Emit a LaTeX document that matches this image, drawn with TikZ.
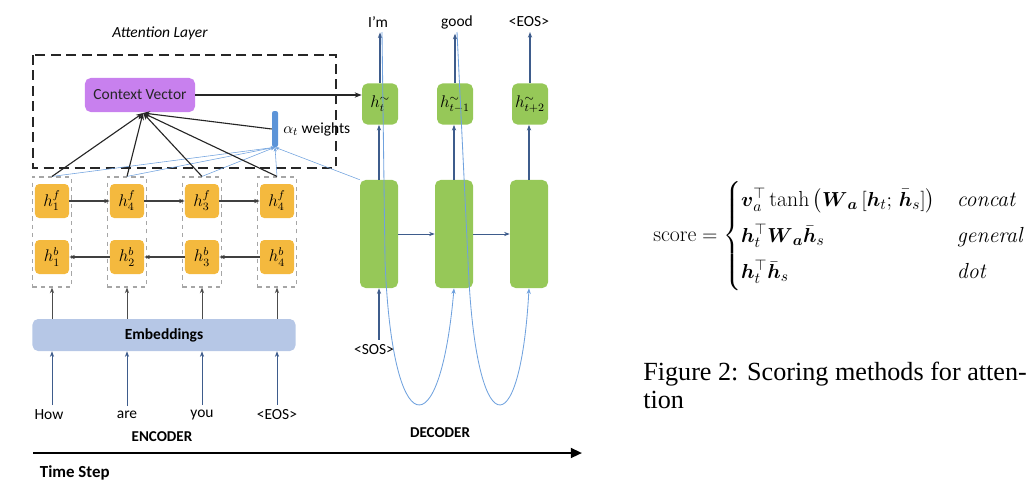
\documentclass[tikz,border=0pt]{standalone}
\usepackage{amsmath}
\usepackage{fontspec}
\setsansfont{Carlito}
\newfontfamily\capfont{Liberation Serif}
\usetikzlibrary{arrows.meta,positioning}

\definecolor{encyellow}{RGB}{244,185,62}
\definecolor{decgreen}{RGB}{150,200,88}
\definecolor{ctxpurple}{RGB}{200,128,238}
\definecolor{embblue}{RGB}{182,199,230}
\definecolor{arrowblue}{RGB}{62,92,140}
\definecolor{lightblue}{RGB}{112,162,222}
\definecolor{barblue}{RGB}{92,148,216}

\begin{document}
\begin{tikzpicture}[x=0.025cm, y=-0.025cm, font=\sffamily\fontsize{11}{13}\selectfont,
  encbox/.style={fill=encyellow, rounded corners=3pt, minimum width=0.85cm,
    minimum height=0.85cm, inner sep=0pt, font=\sffamily\large},
  colbox/.style={draw=gray!70, dashed, thick, minimum width=0.98cm,
    minimum height=2.75cm, inner sep=0pt},
  decbig/.style={fill=decgreen, rounded corners=4pt, minimum width=0.95cm,
    minimum height=2.7cm, inner sep=0pt},
  decsmall/.style={fill=decgreen, rounded corners=4pt, minimum width=0.9cm,
    minimum height=1.03cm, inner sep=0pt, font=\sffamily\large},
  bigbold/.style={font=\sffamily\bfseries\fontsize{10.7}{13}\selectfont},
  flow/.style={-{Stealth[length=4pt]}, thick, black!75},
  updark/.style={-{Stealth[length=4pt]}, semithick, arrowblue},
  attline/.style={thick, black!85, -{Stealth[length=5pt]}},
  weightline/.style={thin, lightblue, -{Stealth[length=3pt]}},
  loopline/.style={semithick, lightblue, -{Stealth[length=4pt]}}]

  \useasboundingbox (0,0) rectangle (1030,481);

  % ────────────────────────────────────────────────────────────────────
  % Attention layer
  % ────────────────────────────────────────────────────────────────────
  \node[font=\sffamily\itshape\fontsize{11}{13}\selectfont] (attlabel) at (160,33) {Attention Layer};
  \draw[thick, black!85, dash pattern=on 7pt off 4pt] (33,55) rectangle (336,168);

  \node[fill=ctxpurple, rounded corners=4pt, minimum width=2.75cm,
    minimum height=0.85cm, text=black!85] (ctx) at (140,95) {Context Vector};
  \coordinate (conv) at (143,113);

  % alpha_t weights bar
  \node[fill=barblue, rounded corners=1.5pt, minimum width=0.15cm,
    minimum height=0.9cm, inner sep=0pt] (alpha) at (275,129) {};
  \node[right=0pt of alpha] (alphalbl) {$\alpha_t$ weights};

  % ────────────────────────────────────────────────────────────────────
  % Encoder: bidirectional states
  % ────────────────────────────────────────────────────────────────────
  \foreach \i/\x in {1/52, 2/127, 3/202, 4/277} {
    \node[colbox] (col\i) at (\x,232) {};
  }
  \node[encbox] (hf1) at (52,201)  {$h^{f}_{1}$};
  \node[encbox] (hf2) at (127,201) {$h^{f}_{4}$};
  \node[encbox] (hf3) at (202,201) {$h^{f}_{3}$};
  \node[encbox] (hf4) at (277,201) {$h^{f}_{4}$};
  \node[encbox] (hb1) at (52,257)  {$h^{b}_{1}$};
  \node[encbox] (hb2) at (127,257) {$h^{b}_{2}$};
  \node[encbox] (hb3) at (202,257) {$h^{b}_{3}$};
  \node[encbox] (hb4) at (277,257) {$h^{b}_{4}$};

  \draw[flow] (hf1) -- (hf2);
  \draw[flow] (hf2) -- (hf3);
  \draw[flow] (hf3) -- (hf4);
  \draw[flow] (hb4) -- (hb3);
  \draw[flow] (hb3) -- (hb2);
  \draw[flow] (hb2) -- (hb1);

  % Embeddings and input words
  \node[fill=embblue, rounded corners=4pt, minimum width=6.575cm,
    minimum height=0.8cm, font=\sffamily\bfseries\fontsize{11}{13}\selectfont]
    (emb) at (164,335) {Embeddings};

  \node (w1) at (49,415)  {How};
  \node (w2) at (127,415) {are};
  \node (w3) at (202,415) {you};
  \node (w4) at (277,415) {<EOS>};

  \foreach \i in {1,...,4} {
    \draw[updark] (w\i.north -| col\i) -- (emb.south -| col\i);
    \draw[updark, black!70] (emb.north -| col\i) -- (col\i.south);
  }

  % ────────────────────────────────────────────────────────────────────
  % Decoder
  % ────────────────────────────────────────────────────────────────────
  \node[decbig] (db1) at (379,234) {};
  \node[decbig] (db2) at (454,234) {};
  \node[decbig] (db3) at (529,234) {};
  \node[decsmall] (ds1) at (380,104) {$h^{\sim}_{t}$};
  \node[decsmall] (ds2) at (455,104) {$h^{\sim}_{t-1}$};
  \node[decsmall] (ds3) at (530,104) {$h^{\sim}_{t+2}$};

  \node (out1) at (378,22) {I'm};
  \node (out2) at (457,22) {good};
  \node (out3) at (529,22) {<EOS>};
  \node (sos) at (374,350) {<SOS>};

  \foreach \i in {1,2,3} {
    \draw[updark, thick] (db\i.north) -- (db\i.north |- ds\i.south);
    \draw[updark, thick] (ds\i.north) -- (out\i.south -| ds\i);
  }
  \draw[updark] (db1) -- (db2);
  \draw[updark] (db2) -- (db3);
  \draw[updark, thick] (sos.north -| db1) -- (db1.south);

  % feedback of previous output
  \coordinate (fb1) at (382,32);
  \coordinate (fb2) at (457,32);
  \draw[loopline] (fb1) -- (385,260) .. controls (392,445) and (440,450) .. (db2.south);
  \draw[loopline] (fb2) -- (468,260) .. controls (475,445) and (520,450) .. (db3.south);

  % ────────────────────────────────────────────────────────────────────
  % Attention connections
  % ────────────────────────────────────────────────────────────────────
  \foreach \i in {1,...,4} {
    \draw[weightline] (col\i.north) -- (alpha.south);
    \draw[attline] (col\i.north) -- (conv);
  }
  \draw[weightline] (db1.north west) -- (alpha.south);
  \draw[attline] (alpha.west) -- (conv);
  \draw[attline] (ctx.east) -- (ctx.east -| ds1.west);

  % ────────────────────────────────────────────────────────────────────
  % Time axis
  % ────────────────────────────────────────────────────────────────────
  \node[bigbold] (enclbl) at (162,437) {ENCODER};
  \node[bigbold] (declbl) at (440,433) {DECODER};
  \coordinate (tstart) at (33,453);
  \coordinate (tend) at (582,453);
  \draw[line width=1.6pt, -{Triangle[length=8pt, width=7pt]}] (tstart) -- (tend);
  \node[font=\sffamily\bfseries\fontsize{12}{14}\selectfont, anchor=west]
    (tslbl) at (35,473) {Time Step};

  % ────────────────────────────────────────────────────────────────────
  % Scoring functions and caption
  % ────────────────────────────────────────────────────────────────────
  \node[font=\fontsize{15.5}{19}\selectfont, anchor=west, inner sep=0pt] (score) at (653,236)
    {$\text{score} = \begin{cases}
      \boldsymbol{v}_a^{\top}\tanh\,\bigl(\boldsymbol{W}_{\boldsymbol{a}}\,[\boldsymbol{h}_t;\,\bar{\boldsymbol{h}}_s]\bigr) & \textit{concat}\\[3pt]
      \boldsymbol{h}_t^{\top}\boldsymbol{W}_{\boldsymbol{a}}\bar{\boldsymbol{h}}_s & \textit{general}\\[3pt]
      \boldsymbol{h}_t^{\top}\bar{\boldsymbol{h}}_s & \textit{dot}
    \end{cases}$};

  \node[font=\capfont\fontsize{18.6}{20}\selectfont, anchor=base west, inner sep=0pt]
    (caption) at (643,380) {Figure 2: Scoring methods for atten-};
  \node[font=\capfont\fontsize{18.6}{20}\selectfont, anchor=base west, inner sep=0pt]
    (captail) at (643,408) {tion};

\end{tikzpicture}
\end{document}
